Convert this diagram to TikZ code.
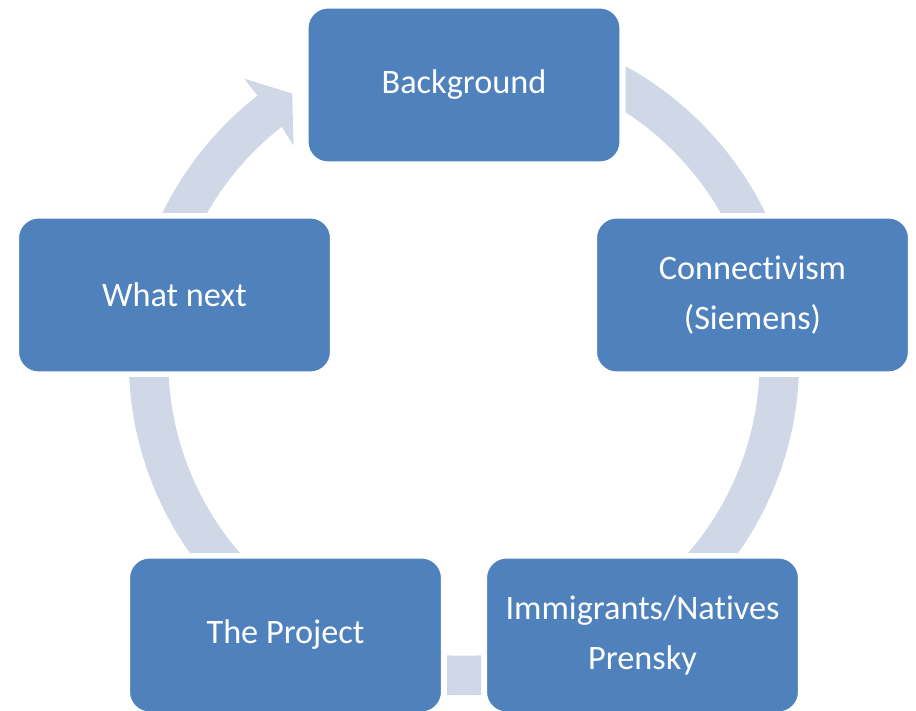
\documentclass[tikz,border=0pt]{standalone}
\usepackage{fontspec}
\setmainfont{Carlito}[Ligatures=NoCommon]
\usetikzlibrary{calc}
\definecolor{boxblue}{HTML}{4F81BD}
\definecolor{ringgray}{HTML}{D0D8E8}

\begin{document}
\begin{tikzpicture}[x=0.02cm,y=0.02cm,
                    cycle node/.style={rectangle,rounded corners=0.4cm,fill=boxblue,draw=white,line width=0.6pt,
                                       minimum width=6.24cm,minimum height=3.08cm,inner sep=0pt,
                                       align=center,text=white,font=\fontsize{19.5}{28.5}\selectfont},
                    ring arc/.style={draw=ringgray,line width=0.79cm}]

  \useasboundingbox (0,0) rectangle (916,710);
  \coordinate (C) at (464,350);
  \coordinate (sw) at (0,0);
  \coordinate (ne) at (916,710);

  \node[cycle node] (bg) at (464,625) {Background};
  \node[cycle node] (conn) at (752.5,415) {Connectivism\\(Siemens)};
  \node[cycle node] (imm) at (642.5,75) {Immigrants/Natives\\Prensky};
  \node[cycle node] (proj) at (285.5,75) {The Project};
  \node[cycle node] (next) at (174.5,415) {What next};

  % Background -> Connectivism
  \begin{scope}
    \clip ($(bg.east |- ne)+(5,0)$) rectangle ($(conn.north -| ne)+(0,5)$);
    \draw[ring arc] (C) circle (315.5);
  \end{scope}
  % Connectivism -> Immigrants
  \begin{scope}
    \clip ($(conn.south -| C)+(0,-5)$) rectangle ($(imm.north -| ne)+(0,5)$);
    \draw[ring arc] (C) circle (315.5);
  \end{scope}
  % Immigrants -> The Project
  \begin{scope}
    \clip ($(proj.east |- sw)+(5,0)$) rectangle ($(imm.west |- C)+(-5,0)$);
    \draw[ring arc] (C) circle (315.5);
  \end{scope}
  % The Project -> What next
  \begin{scope}
    \clip ($(proj.north -| sw)+(0,5)$) rectangle ($(next.south -| C)+(0,-5)$);
    \draw[ring arc] (C) circle (315.5);
  \end{scope}
  % What next -> Background (head shows)
  \begin{scope}
    \clip ($(next.north -| sw)+(0,5)$) rectangle (bg.west |- ne);
    \fill[ringgray] ($(C)+(170:335.5)$) arc[start angle=170,end angle=128,radius=335.5]
      -- ($(C)+(128:357)$) -- ($(C)+(122.8:317)$) -- ($(C)+(128.5:274)$)
      -- ($(C)+(128:296)$) arc[start angle=128,end angle=170,radius=296] -- cycle;
  \end{scope}
\end{tikzpicture}
\end{document}
